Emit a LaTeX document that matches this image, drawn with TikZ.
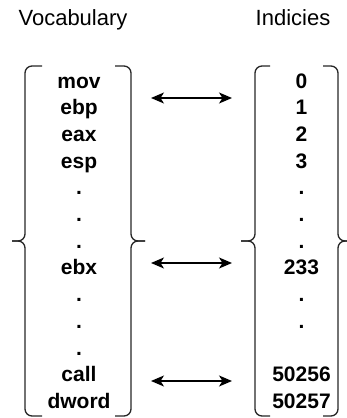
\documentclass[tikz,border=0pt]{standalone}
\usepackage{fontspec}
\setmainfont{Liberation Sans}
\usetikzlibrary{arrows.meta}

\tikzset{
  title/.style={font=\fontsize{22}{26}\selectfont, anchor=base, inner sep=0pt},
  item/.style={font=\fontsize{21}{25}\selectfont\bfseries, anchor=base, inner sep=0pt},
  bracket/.style={draw=black!85, line width=1.3pt, rounded corners=7pt},
  link/.style={draw=black, line width=1.3pt,
    {Stealth[length=13pt,width=11pt,inset=3.5pt]}-{Stealth[length=13pt,width=11pt,inset=3.5pt]}},
}

\begin{document}
\begin{tikzpicture}[x=1pt, y=-1pt]
  \useasboundingbox (0,0) rectangle (346,418);

  % column headings
  \node[title] (vocab) at (73,25) {Vocabulary};
  \node[title] (index) at (293,25) {Indicies};

  % vocabulary entries, one per row
  \foreach \r/\t in {1/mov,2/ebp,3/eax,4/esp,5/.,6/.,7/.,8/ebx,9/.,10/.,11/.,12/call,13/dword}
    \node[item] (v\r) at (79, 88+26.7*\r-26.7) {\t};

  % index entries, row 11 left empty
  \foreach \r/\t in {1/0,2/1,3/2,4/3,5/.,6/.,7/.,8/233,9/.,10/.,12/50256,13/50257}
    \node[item] (i\r) at (301.5, 88+26.7*\r-26.7) {\t};

  % curly brackets around the vocabulary
  \draw[bracket] (42,66) -- (25,66) -- (25,241) -- (12,241);
  \draw[bracket] (42,416) -- (25,416) -- (25,241) -- (12,241);
  \draw[bracket] (115,66) -- (131,66) -- (131,241) -- (145,241);
  \draw[bracket] (115,416) -- (131,416) -- (131,241) -- (145,241);

  % curly brackets around the indices
  \draw[bracket] (270,66) -- (255,66) -- (255,241) -- (241,241);
  \draw[bracket] (270,416) -- (255,416) -- (255,241) -- (241,241);
  \draw[bracket] (323,66) -- (338,66) -- (338,241) -- (352,241);
  \draw[bracket] (323,416) -- (338,416) -- (338,241) -- (352,241);

  % mapping arrows
  \coordinate (a1l) at (151,98);  \coordinate (a1r) at (232,98);
  \coordinate (a2l) at (151,263); \coordinate (a2r) at (232,263);
  \coordinate (a3l) at (151,381); \coordinate (a3r) at (232,381);
  \draw[link] (a1l) -- (a1r);
  \draw[link] (a2l) -- (a2r);
  \draw[link] (a3l) -- (a3r);
\end{tikzpicture}
\end{document}
